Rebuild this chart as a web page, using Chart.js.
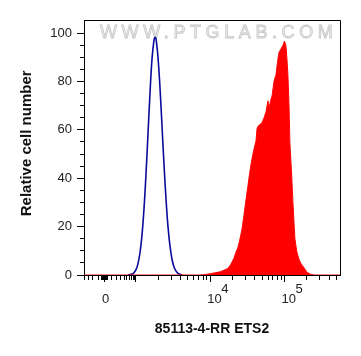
<!DOCTYPE html>
<html>
<head>
<meta charset="utf-8">
<script src="https://cdn.jsdelivr.net/npm/chart.js"></script>
<style>
  body { margin: 0; background: #fff; }
  #wrap { width: 361px; height: 356px; }
</style>
</head>
<body>
<div id="wrap"><canvas id="histo" width="361" height="356"></canvas></div>
<script>
// x values are display positions on the biex axis (log10 of intensity above 10^3)
const controlLogX = [2.892, 2.919, 2.946, 2.973, 3.000, 3.027, 3.054, 3.081, 3.108, 3.135,
                     3.162, 3.189, 3.215, 3.242, 3.256, 3.269, 3.296, 3.323, 3.350, 3.377,
                     3.404, 3.431, 3.458, 3.485, 3.512, 3.539, 3.566, 3.593, 3.620];
const controlCount = [0, 0.2, 0.4, 0.9, 2.2, 4.7, 9.2, 16.6, 27.5, 41.9,
                      58.6, 75.4, 89, 97, 98.2, 97.7, 90, 77.5, 61.8, 45.8,
                      31.5, 20, 11.9, 6.5, 3.3, 1.6, 0.7, 0.3, 0];

const stainedLogX = [2.300, 3.862, 3.929, 3.997, 4.064, 4.131, 4.185, 4.239, 4.279, 4.320,
                     4.347, 4.374, 4.401, 4.428, 4.455, 4.481, 4.508, 4.535, 4.562, 4.589,
                     4.616, 4.630, 4.643, 4.670, 4.697, 4.724, 4.751, 4.778, 4.795, 4.814,
                     4.832, 4.859, 4.886, 4.906, 4.926, 4.953, 4.980, 5.000, 5.020, 5.034,
                     5.047, 5.061, 5.074, 5.094, 5.114, 5.141, 5.168, 5.195, 5.222, 5.263,
                     5.303, 5.343, 5.397, 5.747];
const stainedCount = [0, 0, 0.2, 0.5, 0.9, 1.3, 2, 2.8, 4.5, 7,
                      9.5, 11.5, 15, 19, 25, 31, 37, 43, 48, 52,
                      55.5, 60.5, 61.5, 62.2, 63, 65, 67.5, 72, 69.5, 72.3,
                      74, 80, 83, 88, 92, 93.5, 95, 96.7, 94.5, 89,
                      82, 70, 54, 43, 30, 15, 9.5, 6.5, 4.8, 3,
                      1.2, 0.4, 0, 0];

const yTickLabels = [0, 20, 40, 60, 80, 100];
const xLabelAt = [0, 10000, 100000];
const xLabelBase = ['0', '10', '10'];
const xLabelExp = ['', '4', '5'];
const xMajorAt = [0, 1000, 10000, 100000];

const xTitle = '85113-4-RR ETS2';
const yTitle = 'Relative cell number';
const watermark = 'WWW.PTGLAB.COM';

// biex display transform: linear-ish around zero, log10 above 1000
const zeroPos = 2.577;
function toDisplay(v) {
  if (v >= 1000) return Math.log10(v);
  return zeroPos + (3 - zeroPos) * Math.asinh(v / 200) / Math.asinh(5);
}

function xTicks() {
  const minor = [-400, -300, -200, -100, -50, -40, -30, -20, -10, 10, 20, 30, 40, 50];
  for (let k = 1; k <= 9; k++) minor.push(k * 100);
  for (let d = 1000; d <= 100000; d *= 10)
    for (let k = 2; k <= 9; k++) if (k * d <= 500000) minor.push(k * d);
  const ticks = minor.map(v => ({ value: toDisplay(v), major: false }));
  xMajorAt.forEach(v => ticks.push({ value: toDisplay(v), major: true }));
  return ticks.sort((a, b) => a.value - b.value);
}

const sansFont = '"Liberation Sans", Arial, sans-serif';

const extras = {
  id: 'extras',
  beforeDatasetsDraw(chart) {
    const ctx = chart.ctx;
    ctx.save();
    ctx.font = '18px ' + sansFont;
    ctx.letterSpacing = '4.6px';
    ctx.textBaseline = 'middle';
    ctx.textAlign = 'left';
    ctx.fillStyle = '#efefef';
    ctx.strokeStyle = '#c6c6c6';
    ctx.lineWidth = 0.8;
    ctx.fillText(watermark, 100, 33);
    ctx.strokeText(watermark, 100, 33);
    ctx.letterSpacing = '0px';
    ctx.restore();
  },
  afterDraw(chart) {
    const { ctx, chartArea: a, scales } = chart;
    ctx.save();
    ctx.letterSpacing = '0px';
    // top and right frame
    ctx.strokeStyle = '#000';
    ctx.lineWidth = 1;
    ctx.beginPath();
    ctx.moveTo(a.left, a.top + 0.5);
    ctx.lineTo(a.right + 0.5, a.top + 0.5);
    ctx.lineTo(a.right + 0.5, a.bottom + 1);
    ctx.stroke();
    // x tick labels with exponents
    ctx.font = '13px ' + sansFont;
    ctx.fillStyle = '#222';
    ctx.textBaseline = 'alphabetic';
    const base = scales.x.top + 28;
    xLabelAt.forEach((v, i) => {
      const px = scales.x.getPixelForValue(toDisplay(v));
      if (!xLabelExp[i]) {
        ctx.textAlign = 'center';
        ctx.fillText(xLabelBase[i], px + 1, base);
      } else {
        ctx.textAlign = 'left';
        const x0 = px - 3;
        ctx.fillText(xLabelBase[i], x0, base);
        const w = ctx.measureText(xLabelBase[i]).width;
        ctx.fillText(xLabelExp[i], x0 + w - 0.5, base - 10);
      }
    });
    ctx.restore();
  }
};

new Chart(document.getElementById('histo'), {
  type: 'line',
  data: {
    datasets: [{
      label: 'stained',
      data: stainedLogX.map((x, i) => ({ x: x, y: stainedCount[i] })),
      borderColor: '#ff0000',
      backgroundColor: '#ff0000',
      borderWidth: 1,
      fill: 'origin',
      pointRadius: 0,
      tension: 0.1
    }, {
      label: 'control',
      data: controlLogX.map((x, i) => ({ x: x, y: controlCount[i] })),
      borderColor: '#0a0a9c',
      borderWidth: 1.6,
      fill: false,
      pointRadius: 0,
      tension: 0.4
    }]
  },
  plugins: [extras],
  options: {
    responsive: false,
    animation: false,
    layout: { padding: { top: 20, right: 21, left: 0, bottom: 0 } },
    plugins: { legend: { display: false }, tooltip: { enabled: false } },
    scales: {
      x: {
        type: 'linear',
        min: 2.2997,
        max: 5.7475,
        afterBuildTicks: s => { s.ticks = xTicks(); },
        afterFit: s => { s.height = 81; },
        ticks: { autoSkip: false, maxRotation: 0, padding: 0, callback: () => '' },
        grid: {
          drawOnChartArea: false,
          tickLength: 7,
          tickColor: '#000',
          tickWidth: 1,
          tickBorderDash: c => (c.tick && c.tick.major) ? [] : [4, 30]
        },
        border: { color: '#000', width: 1 },
        title: {
          display: true, text: xTitle, color: '#111',
          font: { family: sansFont, size: 14, weight: 'bold' },
          padding: { top: 0, bottom: 18 }
        }
      },
      y: {
        min: 0,
        max: 105.4,
        afterBuildTicks: s => {
          const t = [];
          for (let v = 0; v <= 100; v += 5) t.push({ value: v, major: yTickLabels.includes(v) });
          s.ticks = t;
        },
        afterFit: s => { s.width = 84; },
        ticks: {
          autoSkip: false, padding: 5, color: '#222',
          font: { family: sansFont, size: 13 },
          callback: v => yTickLabels.includes(v) ? String(v) : ''
        },
        grid: {
          drawOnChartArea: false,
          tickLength: 7,
          tickColor: '#000',
          tickWidth: 1,
          tickBorderDash: c => (c.tick && c.tick.major) ? [] : [4, 30],
          tickBorderDashOffset: c => (c.tick && c.tick.major) ? 0 : 31
        },
        border: { color: '#000', width: 1 },
        title: {
          display: true, text: '  ' + yTitle, color: '#111',
          font: { family: sansFont, size: 15, weight: 'bold' },
          padding: { top: 18, bottom: 0 }
        }
      }
    }
  }
});
</script>
</body>
</html>
